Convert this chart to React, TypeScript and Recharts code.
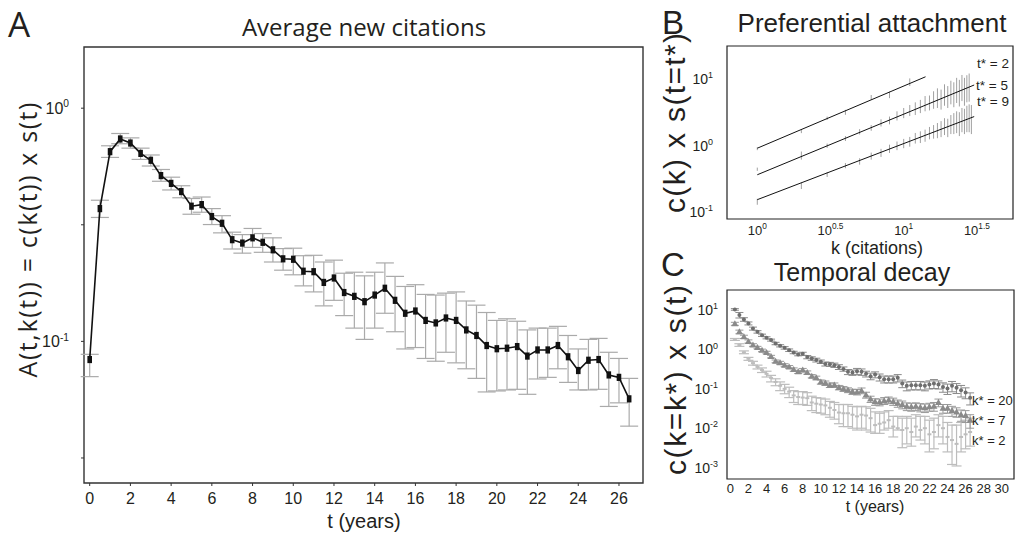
import React from 'react';
import { ComposedChart, Line, Scatter, XAxis, YAxis, ErrorBar, ReferenceArea } from 'recharts';

const FONT = "'Liberation Sans', Arial, sans-serif";
const FONT_A = "'Open Sans', sans-serif";
const INK = '#231f20';

// ---- panel A: average new citations ----
const tA = [0, 0.5, 1, 1.5, 2, 2.5, 3, 3.5, 4, 4.5, 5, 5.5, 6, 6.5, 7, 7.5, 8, 8.5, 9, 9.5, 10, 10.5, 11, 11.5, 12, 12.5, 13, 13.5,
  14, 14.5, 15, 15.5, 16, 16.5, 17, 17.5, 18, 18.5, 19, 19.5, 20, 20.5, 21, 21.5, 22, 22.5, 23, 23.5, 24, 24.5, 25, 25.5, 26, 26.5];
const valA = [0.0836, 0.371, 0.651, 0.738, 0.709, 0.64, 0.598, 0.514, 0.476, 0.439, 0.38, 0.386, 0.343, 0.321, 0.273, 0.264,
  0.278, 0.266, 0.247, 0.226, 0.225, 0.2, 0.199, 0.179, 0.187, 0.162, 0.156, 0.148, 0.158, 0.169, 0.15, 0.132, 0.135, 0.123,
  0.12, 0.126, 0.123, 0.112, 0.106, 0.096, 0.093, 0.0935, 0.095, 0.0865, 0.0919, 0.0919, 0.096, 0.0859, 0.075, 0.083, 0.0836,
  0.0718, 0.0701, 0.0567];
const hiA = [0.088, 0.403, 0.69, 0.779, 0.746, 0.674, 0.63, 0.546, 0.506, 0.465, 0.41, 0.416, 0.371, 0.346, 0.294, 0.287,
  0.305, 0.29, 0.278, 0.25, 0.251, 0.233, 0.234, 0.219, 0.223, 0.196, 0.198, 0.191, 0.198, 0.217, 0.19, 0.172, 0.175, 0.159,
  0.158, 0.161, 0.163, 0.149, 0.143, 0.133, 0.123, 0.125, 0.122, 0.112, 0.114, 0.114, 0.116, 0.106, 0.0928, 0.102, 0.103,
  0.0898, 0.0845, 0.0694];
const loA = [0.0706, 0.34, 0.615, 0.704, 0.674, 0.603, 0.565, 0.486, 0.446, 0.413, 0.351, 0.358, 0.317, 0.292, 0.249, 0.239,
  0.253, 0.241, 0.219, 0.202, 0.193, 0.173, 0.163, 0.142, 0.15, 0.129, 0.114, 0.102, 0.114, 0.132, 0.11, 0.0928, 0.0941, 0.0845,
  0.0822, 0.0898, 0.0809, 0.0763, 0.0694, 0.0607, 0.0613, 0.0619, 0.0623, 0.0593, 0.069, 0.0701, 0.0763, 0.0667, 0.0619, 0.0619,
  0.0623, 0.0526, 0.0545, 0.0433];
const aXTicks = [0, 2, 4, 6, 8, 10, 12, 14, 16, 18, 20, 22, 24, 26];
const aYTicks = [0.031623, 0.1, 0.31623, 1];
const aYLabeled = [-1, 0];
const aXDomain = [-0.28, 27.18];
const aYDomain = [0.0247, 1.83];

// ---- panel B: preferential attachment ----
const kB2 = [1, 2, 3, 4, 6, 8, 11];
const vB2 = [0.9, 1.65, 2.6, 3.2, 5.3, 5.8, 9.0];
const loB2 = [0.86, 1.55, 2.45, 2.92, 4.9, 5.2, 7.9];
const hiB2 = [0.95, 1.74, 2.75, 3.47, 5.8, 6.5, 10.3];

const kB5 = [1, 2, 3, 4, 5, 6, 7, 8, 9, 10, 11, 12, 13, 14, 15, 16, 17, 18, 19, 20, 21, 22, 23, 24, 25, 26, 27, 28];
const vB5 = [0.44, 0.72, 1.0, 1.28, 1.62, 1.85, 2.2, 2.4, 2.8, 3.1, 3.4, 3.6, 3.9, 4.3, 4.4, 4.9, 5.2, 5.0, 5.8, 5.4, 6.3,
  5.9, 6.8, 6.2, 7.4, 6.5, 7.2, 7.5];
const loB5 = [0.42, 0.62, 0.93, 1.18, 1.48, 1.68, 1.95, 2.1, 2.4, 2.6, 2.8, 2.9, 3.1, 3.3, 3.4, 3.6, 3.7, 3.5, 4.0, 3.7, 4.2,
  3.8, 4.4, 3.9, 4.7, 4.0, 4.5, 4.6];
const hiB5 = [0.47, 0.82, 1.08, 1.4, 1.78, 2.05, 2.5, 2.75, 3.3, 3.7, 4.1, 4.5, 4.9, 5.6, 5.7, 6.6, 7.3, 7.0, 8.4, 7.9, 9.5,
  9.0, 10.5, 9.8, 11.6, 10.5, 11.5, 12.2];

const kB9 = [1, 2, 3, 4, 5, 6, 7, 8, 9, 10, 11, 12, 13, 14, 15, 16, 17, 18, 19, 20, 21, 22, 23, 24, 25, 26, 27, 28, 29];
const vB9 = [0.145, 0.25, 0.37, 0.5, 0.58, 0.7, 0.78, 0.9, 1.0, 1.08, 1.15, 1.3, 1.35, 1.42, 1.55, 1.62, 1.7, 1.78, 1.95,
  1.85, 2.1, 2.2, 2.3, 2.15, 2.5, 2.4, 2.6, 2.7, 2.55];
const loB9 = [0.13, 0.224, 0.34, 0.46, 0.52, 0.62, 0.68, 0.78, 0.86, 0.92, 0.97, 1.08, 1.1, 1.15, 1.25, 1.28, 1.3, 1.35, 1.45,
  1.35, 1.5, 1.5, 1.55, 1.4, 1.6, 1.5, 1.6, 1.6, 1.5];
const hiB9 = [0.16, 0.28, 0.4, 0.55, 0.65, 0.79, 0.9, 1.04, 1.16, 1.27, 1.36, 1.56, 1.65, 1.75, 1.92, 2.05, 2.2, 2.35, 2.6,
  2.55, 2.9, 3.1, 3.3, 3.2, 3.7, 3.6, 4.0, 4.2, 4.1];

const fitK2 = [1, 14.1];
const fitC2 = [0.92, 10.9];
const fitK5 = [1, 30.3];
const fitC5 = [0.367, 8.2];
const fitK9 = [1, 30.3];
const fitC9 = [0.155, 2.75];

const bXTicks = [1, 3.1623, 10, 31.623];
const bYTicks = [0.1, 1, 10];
const bXDomain = [0.621, 55.8];
const bYDomain = [0.0794, 31.62];

// ---- panel C: temporal decay ----
const tC = [0.5, 1, 1.5, 2, 2.5, 3, 3.5, 4, 4.5, 5, 5.5, 6, 6.5, 7, 7.5, 8, 8.5, 9, 9.5, 10, 10.5, 11, 11.5, 12, 12.5, 13,
  13.5, 14, 14.5, 15, 15.5, 16, 16.5, 17, 17.5, 18, 18.5, 19, 19.5, 20, 20.5, 21, 21.5, 22, 22.5, 23, 23.5, 24, 24.5, 25,
  25.5, 26, 26.5];
const vC20 = [10.4, 7.5, 5.8, 4.6, 3.4, 2.8, 2.3, 1.98, 1.73, 1.42, 1.24, 1.1, 0.96, 0.84, 0.75, 0.78, 0.64, 0.59, 0.54,
  0.49, 0.43, 0.42, 0.4, 0.36, 0.32, 0.27, 0.26, 0.28, 0.27, 0.24, 0.21, 0.23, 0.198, 0.176, 0.176, 0.176, 0.19, 0.137,
  0.119, 0.124, 0.124, 0.124, 0.119, 0.129, 0.137, 0.129, 0.112, 0.102, 0.119, 0.106, 0.092, 0.081, 0.059];
const eC20 = [0.5, 1.2, 0.6, 0.4, 0.3, 0.2, 0.15, 0.12, 0.1, 0.1, 0.08, 0.08, 0.07, 0.06, 0.06, 0.07, 0.06, 0.06, 0.06,
  0.05, 0.05, 0.05, 0.05, 0.05, 0.04, 0.04, 0.04, 0.05, 0.05, 0.04, 0.04, 0.04, 0.04, 0.035, 0.035, 0.035, 0.04, 0.03,
  0.03, 0.03, 0.03, 0.03, 0.03, 0.03, 0.035, 0.03, 0.03, 0.03, 0.035, 0.03, 0.03, 0.025, 0.02];
const vC7 = [4.5, 2.8, 2.1, 1.6, 1.3, 1.12, 0.95, 0.84, 0.66, 0.5, 0.46, 0.4, 0.36, 0.31, 0.27, 0.3, 0.26, 0.21, 0.19,
  0.15, 0.14, 0.124, 0.125, 0.108, 0.1, 0.093, 0.085, 0.083, 0.09, 0.07, 0.055, 0.047, 0.046, 0.05, 0.052, 0.048, 0.043,
  0.04, 0.036, 0.035, 0.036, 0.034, 0.033, 0.035, 0.036, 0.045, 0.032, 0.032, 0.028, 0.026, 0.022, 0.021, 0.016];
const eC7 = [0.4, 0.3, 0.2, 0.15, 0.1, 0.08, 0.07, 0.06, 0.05, 0.04, 0.04, 0.035, 0.03, 0.03, 0.025, 0.03, 0.025, 0.02,
  0.02, 0.018, 0.018, 0.016, 0.016, 0.014, 0.014, 0.013, 0.013, 0.013, 0.015, 0.012, 0.01, 0.009, 0.009, 0.01, 0.01, 0.01,
  0.009, 0.009, 0.008, 0.008, 0.008, 0.008, 0.008, 0.008, 0.009, 0.01, 0.008, 0.008, 0.008, 0.007, 0.007, 0.007, 0.006];
const vC2 = [1.8, 1.3, 0.85, 0.58, 0.45, 0.36, 0.3, 0.24, 0.19, 0.15, 0.12, 0.1, 0.085, 0.068, 0.062, 0.06, 0.058, 0.045,
  0.042, 0.04, 0.038, 0.033, 0.029, 0.025, 0.024, 0.024, 0.022, 0.02, 0.022, 0.021, 0.018, 0.012, 0.013, 0.014, 0.016,
  0.011, 0.01, 0.009, 0.01, 0.008, 0.011, 0.009, 0.01, 0.007, 0.008, 0.012, 0.01, 0.006, 0.005, 0.004, 0.006, 0.007, 0.008];
const loC2 = [1.7, 1.2, 0.78, 0.53, 0.4, 0.32, 0.26, 0.2, 0.15, 0.12, 0.09, 0.075, 0.06, 0.045, 0.04, 0.04, 0.038, 0.028,
  0.025, 0.024, 0.022, 0.019, 0.017, 0.013, 0.011, 0.011, 0.01, 0.009, 0.01, 0.009, 0.008, 0.0074, 0.0074, 0.009, 0.01,
  0.006, 0.009, 0.0032, 0.004, 0.0035, 0.006, 0.005, 0.004, 0.0025, 0.003, 0.006, 0.004, 0.0025, 0.0012, 0.0011, 0.0025,
  0.003, 0.0035];
const hiC2 = [1.9, 1.4, 0.92, 0.63, 0.5, 0.4, 0.34, 0.28, 0.22, 0.18, 0.15, 0.13, 0.11, 0.09, 0.085, 0.085, 0.08, 0.065,
  0.06, 0.058, 0.055, 0.048, 0.045, 0.04, 0.04, 0.04, 0.036, 0.035, 0.036, 0.035, 0.032, 0.026, 0.024, 0.026, 0.028, 0.02,
  0.02, 0.018, 0.02, 0.018, 0.022, 0.02, 0.02, 0.016, 0.018, 0.022, 0.02, 0.014, 0.012, 0.012, 0.014, 0.016, 0.018];

const cXTicks = [0, 2, 4, 6, 8, 10, 12, 14, 16, 18, 20, 22, 24, 26, 28, 30];
const cYTicks = [0.001, 0.01, 0.1, 1, 10];
const cXDomain = [-0.37, 31.35];
const cYDomain = [0.000513, 32.4];

// tables for the library
const dataA = tA.map((t, i) => ({ t, v: valA[i], err: [valA[i] - loA[i], hiA[i] - valA[i]] }));
const bars = (ks: number[], vs: number[], lo: number[], hi: number[]) =>
  ks.map((k, i) => ({ k, c: vs[i], err: [vs[i] - lo[i], hi[i] - vs[i]] }));
const fit = (ks: number[], cs: number[]) => ks.map((k, i) => ({ k, c: cs[i] }));
const dataB2 = bars(kB2, vB2, loB2, hiB2);
const dataB5 = bars(kB5, vB5, loB5, hiB5);
const dataB9 = bars(kB9, vB9, loB9, hiB9);
const dataC20 = tC.map((t, i) => ({ t, c: vC20[i], err: eC20[i] }));
const dataC7 = tC.map((t, i) => ({ t, c: vC7[i], err: eC7[i] }));
const dataC2 = tC.map((t, i) => ({ t, c: vC2[i], err: [vC2[i] - loC2[i], hiC2[i] - vC2[i]] }));

function PowTick(props: any) {
  const { x, y, payload, fs, anchor, dy, labeled } = props;
  const r = Math.round(Math.log10(payload.value) * 2) / 2;
  if (labeled && !labeled.includes(r)) return <g />;
  return (
    <text x={x} y={y} dy={dy} textAnchor={anchor} fontSize={fs} fontFamily={FONT} fill={INK}>
      10<tspan dy={-fs * 0.42} fontSize={fs * 0.64}>{String(r)}</tspan>
    </text>
  );
}

const Empty = () => <g />;
const Triangle = (p: any) => (
  <polygon points={`${p.cx},${p.cy - 3.5} ${p.cx - 3.5},${p.cy + 2.5} ${p.cx + 3.5},${p.cy + 2.5}`} fill="#8a8a8a" />
);
const Dot20 = (p: any) => <circle cx={p.cx} cy={p.cy} r={2} fill="#6e6e6e" />;
const Dash2 = (p: any) => <rect x={p.cx - 2} y={p.cy - 1} width={4} height={2} fill="#bdbdbd" />;

function PanelA() {
  return (
    <ComposedChart width={660} height={535} data={dataA} margin={{ top: 47, right: 17, bottom: 22, left: 0 }}>
      <XAxis dataKey="t" type="number" domain={aXDomain} ticks={aXTicks} allowDataOverflow axisLine={false}
        tickSize={3} tickMargin={7} height={30} tickLine={{ stroke: '#333' }}
        tick={{ fontSize: 16, fill: INK, fontFamily: FONT }} />
      <YAxis type="number" scale="log" domain={aYDomain} ticks={aYTicks} allowDataOverflow axisLine={false}
        width={84} tickSize={3} tickMargin={12} tickLine={{ stroke: '#333' }}
        tick={(p: any) => <PowTick {...p} fs={16} anchor="end" dy={6} labeled={aYLabeled} />} />
      <ReferenceArea x1={aXDomain[0]} x2={aXDomain[1]} y1={aYDomain[0]} y2={aYDomain[1]} fill="none"
        stroke="#333" strokeWidth={1.4} ifOverflow="visible" />
      <Line dataKey="v" stroke="#111" strokeWidth={1.6} isAnimationActive={false}
        dot={(p: any) => <rect key={`a${p.index}`} x={p.cx - 2.3} y={p.cy - 3.6} width={4.6} height={7.2} fill="#111" />}>
        <ErrorBar dataKey="err" direction="y" width={9} stroke="#aaaaaa" strokeWidth={1.2} />
      </Line>
    </ComposedChart>
  );
}

function PanelB() {
  return (
    <ComposedChart width={355} height={260} margin={{ top: 46, right: 2, bottom: 16, left: 0 }}>
      <XAxis dataKey="k" type="number" scale="log" domain={bXDomain} ticks={bXTicks} allowDataOverflow axisLine={false}
        tickLine={false} tickSize={0} tickMargin={6} height={25}
        tick={(p: any) => <PowTick {...p} fs={13} anchor="middle" dy={9.5} />} />
      <YAxis dataKey="c" type="number" scale="log" domain={bYDomain} ticks={bYTicks} allowDataOverflow axisLine={false}
        tickLine={false} tickSize={0} tickMargin={14} width={67}
        tick={(p: any) => <PowTick {...p} fs={14} anchor="end" dy={5} />} />
      <ReferenceArea x1={bXDomain[0]} x2={bXDomain[1]} y1={bYDomain[0]} y2={bYDomain[1]} fill="none"
        stroke="#222" strokeWidth={1.2} ifOverflow="visible" />
      {[dataB2, dataB5, dataB9].map((d, i) => (
        <Scatter key={`b${i}`} data={d} shape={Empty} isAnimationActive={false}>
          <ErrorBar dataKey="err" direction="y" width={0} stroke="#a0a0a0" strokeWidth={1} />
        </Scatter>
      ))}
      {[fit(fitK2, fitC2), fit(fitK5, fitC5), fit(fitK9, fitC9)].map((d, i) => (
        <Scatter key={`f${i}`} data={d} shape={Empty} line={{ stroke: '#111', strokeWidth: 1 }} lineType="joint"
          isAnimationActive={false} />
      ))}
    </ComposedChart>
  );
}

function PanelC() {
  return (
    <ComposedChart width={355} height={280} margin={{ top: 35, right: 1, bottom: 36, left: 0 }}>
      <XAxis dataKey="t" type="number" domain={cXDomain} ticks={cXTicks} allowDataOverflow axisLine={false}
        tickLine={false} tickSize={0} tickMargin={5} height={20} interval={0}
        tick={{ fontSize: 13, fill: INK, fontFamily: FONT }} />
      <YAxis dataKey="c" type="number" scale="log" domain={cYDomain} ticks={cYTicks} allowDataOverflow axisLine={false}
        tickLine={false} tickSize={0} tickMargin={9} width={67}
        tick={(p: any) => <PowTick {...p} fs={14} anchor="end" dy={5} />} />
      <ReferenceArea x1={cXDomain[0]} x2={cXDomain[1]} y1={cYDomain[0]} y2={cYDomain[1]} fill="none"
        stroke="#222" strokeWidth={1.2} ifOverflow="visible" />
      <Scatter data={dataC2} shape={Dash2} isAnimationActive={false}>
        <ErrorBar dataKey="err" direction="y" width={5} stroke="#bdbdbd" strokeWidth={1.2} />
      </Scatter>
      <Scatter data={dataC7} shape={Triangle} isAnimationActive={false}>
        <ErrorBar dataKey="err" direction="y" width={4} stroke="#9a9a9a" strokeWidth={1} />
      </Scatter>
      <Scatter data={dataC20} shape={Dot20} isAnimationActive={false}>
        <ErrorBar dataKey="err" direction="y" width={4} stroke="#8a8a8a" strokeWidth={1} />
      </Scatter>
    </ComposedChart>
  );
}

function Labels() {
  const t = { fill: INK, fontFamily: FONT } as const;
  return (
    <svg width={1015} height={535} style={{ position: 'absolute', left: 0, top: 0, pointerEvents: 'none' }}>
      <text x={8} y={37} fontSize={35} fontFamily={FONT_A} fill={INK}>A</text>
      <text x={364} y={36} fontSize={24} fontFamily={FONT_A} fill={INK} textAnchor="middle">Average new citations</text>
      <text transform="translate(37,240) rotate(-90)" fontSize={25} fontFamily={FONT_A} fill={INK} textAnchor="middle"
        textLength={275} lengthAdjust="spacing">A(t,k(t)) = c(k(t)) x s(t)</text>
      <text x={364} y={528} fontSize={20} {...t} textAnchor="middle">t (years)</text>

      <text x={662} y={34} fontSize={33} {...t}>B</text>
      <text x={872} y={32} fontSize={26} {...t} textAnchor="middle">Preferential attachment</text>
      <text transform="translate(685,123) rotate(-90)" fontSize={30} {...t} textAnchor="middle"
        textLength={180} lengthAdjust="spacing">c(k) x s(t=t*)</text>
      <text x={877} y={254} fontSize={18} {...t} textAnchor="middle">k (citations)</text>
      <text x={977} y={68} fontSize={13.5} {...t}>t* = 2</text>
      <text x={976} y={90} fontSize={13.5} {...t}>t* = 5</text>
      <text x={977} y={106} fontSize={13.5} {...t}>t* = 9</text>

      <text x={661} y={276} fontSize={33} {...t}>C</text>
      <text x={862} y={281} fontSize={25} {...t} textAnchor="middle">Temporal decay</text>
      <text transform="translate(686,380) rotate(-90)" fontSize={30} {...t} textAnchor="middle"
        textLength={190} lengthAdjust="spacing">c(k=k*) x s(t)</text>
      <text x={875} y={512} fontSize={16} {...t} textAnchor="middle">t (years)</text>
      <text x={972} y={405} fontSize={13} {...t}>k* = 20</text>
      <text x={972} y={425} fontSize={13} {...t}>k* = 7</text>
      <text x={972} y={445} fontSize={13} {...t}>k* = 2</text>
    </svg>
  );
}

export default function App() {
  return (
    <div style={{ position: 'absolute', left: 0, top: 0, width: 1015, height: 535, background: '#fff', overflow: 'hidden' }}>
      <div style={{ position: 'absolute', left: 0, top: 0 }}><PanelA /></div>
      <div style={{ position: 'absolute', left: 660, top: 0 }}><PanelB /></div>
      <div style={{ position: 'absolute', left: 660, top: 255 }}><PanelC /></div>
      <Labels />
    </div>
  );
}
